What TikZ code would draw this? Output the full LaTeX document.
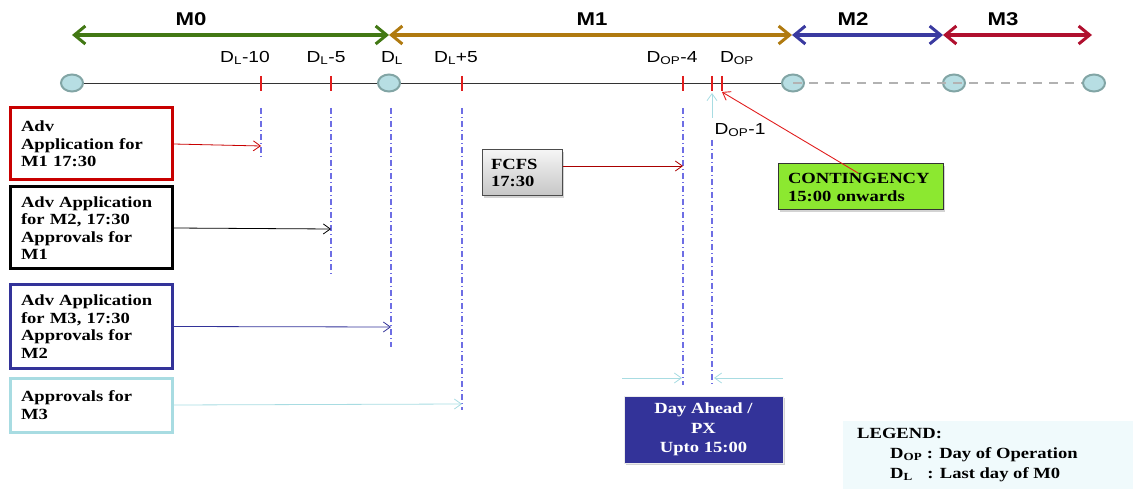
\documentclass[tikz,border=0pt]{standalone}
\usepackage{fontspec}
\setmainfont{Liberation Serif}[FakeStretch=1.2]
\setsansfont{Liberation Sans}[FakeStretch=1.2]
\usetikzlibrary{arrows.meta,shadows,shapes.geometric}
\definecolor{mzero}{RGB}{66,120,20}
\definecolor{mone}{RGB}{176,122,16}
\definecolor{mtwo}{RGB}{58,58,160}
\definecolor{mthree}{RGB}{176,16,46}
\definecolor{boxred}{RGB}{200,0,0}
\definecolor{boxblue}{RGB}{51,51,153}
\definecolor{lcyan}{RGB}{168,220,226}
\definecolor{ddblue}{RGB}{110,110,228}
\definecolor{circfill}{RGB}{183,222,227}
\definecolor{circdraw}{RGB}{130,165,165}
\definecolor{contgreen}{RGB}{140,232,48}
\definecolor{legfill}{RGB}{240,250,252}
\definecolor{tickred}{RGB}{225,30,30}
\tikzset{
  circ/.style={ellipse, minimum width=22pt, minimum height=17pt, inner sep=0pt, fill=circfill, draw=circdraw, line width=2pt},
  tick/.style={tickred, line width=1.3pt},
  ddline/.style={ddblue, line width=1.2pt, dash pattern=on 6pt off 3pt on 1pt off 3pt},
  topar/.style={line width=3.5pt, {Straight Barb[length=11pt,width=18pt,line width=3pt]}-{Straight Barb[length=11pt,width=18pt,line width=3pt]}},
  conn/.style={line width=0.8pt, -{Straight Barb[length=7pt,width=10pt]}},
  tlabel/.style={font=\sffamily\fontsize{16}{18}\selectfont, inner sep=0pt},
  mlabel/.style={font=\sffamily\bfseries\fontsize{18.5}{20}\selectfont, inner sep=0pt},
  advbox/.style={draw, line width=3pt, fill=white, minimum width=162pt, text width=140pt, align=left, inner sep=0pt, font=\bfseries\fontsize{15.5}{17.5}\selectfont},
}
\begin{document}
\begin{tikzpicture}[x=1pt,y=-1pt]
\useasboundingbox (0,0) rectangle (1133,489);
% timeline
\draw[black!80, line width=0.8pt] (72,83) -- (793,83);
\node[circ] (c0) at (72,83) {};
\node[circ] (c1) at (389,83) {};
\node[circ] (c2) at (793,83) {};
\node[circ] (c3) at (954,83) {};
\node[circ] (c4) at (1094,83) {};
\draw[black!30, line width=2pt, dash pattern=on 9pt off 7pt] (c2.center) -- (c4.west);
% ticks
\foreach \x in {261,331,462,683,712,722} \draw[tick] (\x,76) -- (\x,91);
% tick labels
\node[tlabel] (l1) at (245,58) {D\textsubscript{L}-10};
\node[tlabel] (l2) at (326,58) {D\textsubscript{L}-5};
\node[tlabel] (l3) at (392,58) {D\textsubscript{L}};
\node[tlabel] (l4) at (456,58) {D\textsubscript{L}+5};
\node[tlabel] (l5) at (672,58) {D\textsubscript{OP}-4};
\node[tlabel] (l6) at (737,58) {D\textsubscript{OP}};
\node[tlabel] (l7) at (740,130) {D\textsubscript{OP}-1};
% top arrows
\coordinate (a0) at (72,35);
\coordinate (a1) at (389,35);
\coordinate (a2) at (792,35);
\coordinate (a3) at (943,35);
\coordinate (a4) at (1092,35);
\draw[topar, mzero] (a0) -- (a1);
\draw[topar, mone] (a1) -- (a2);
\draw[topar, mtwo] (a2) -- (a3);
\draw[topar, mthree] (a3) -- (a4);
\node[mlabel] (m0) at (191,19) {M0};
\node[mlabel] (m1) at (592,19) {M1};
\node[mlabel] (m2) at (853,19) {M2};
\node[mlabel] (m3) at (1003,19) {M3};
% vertical dash-dot lines
\draw[ddline] (261,108) -- (261,157);
\draw[ddline] (331,108) -- (331,277);
\draw[ddline] (391,108) -- (391,347);
\draw[ddline] (462,108) -- (462,410);
\draw[ddline] (683,108) -- (683,385);
\draw[ddline] (712,140) -- (712,385);
% left boxes
\node[advbox, draw=boxred, minimum height=72pt] (b1) at (91,144) {Adv\\Application for\\M1 17:30};
\node[advbox, draw=black, minimum height=82pt] (b2) at (91,228) {Adv Application\\for M2, 17:30\\Approvals for\\M1};
\node[advbox, draw=boxblue, minimum height=83pt] (b3) at (91,326.5) {Adv Application\\for M3, 17:30\\Approvals for\\M2};
\node[advbox, draw=lcyan, minimum height=54pt] (b4) at (91,405) {Approvals for\\M3};
\coordinate (t1) at (261,146);
\coordinate (t2) at (331,229);
\coordinate (t3) at (391,327);
\coordinate (t4) at (462,404);
\draw[conn, boxred] (b1.east) -- (t1);
\draw[conn, black] (b2.east) -- (t2);
\draw[conn, boxblue] (b3.east) -- (t3);
\draw[conn, lcyan] (b4.east) -- (t4);
% FCFS
\node[draw=black!70, line width=1pt, top color=gray!8, bottom color=gray!45, minimum width=80pt, minimum height=46pt, text width=62pt, align=left, inner sep=0pt, font=\bfseries\fontsize{15.5}{17.5}\selectfont, drop shadow={opacity=0.35, shadow xshift=2pt, shadow yshift=-2pt}] (fcfs) at (522,173) {FCFS\\17:30};
\coordinate (tf) at (683,166);
\draw[conn, boxred!85!black] (fcfs.east |- tf) -- (tf);
% Day ahead
\node[fill=boxblue, draw=white!85!gray, line width=1pt, minimum width=159pt, minimum height=67pt, align=center, inner sep=0pt, text=white, font=\bfseries\fontsize{15.5}{19.5}\selectfont, drop shadow={opacity=0.35, shadow xshift=2pt, shadow yshift=-2pt}] (da) at (703.5,429.5) {Day Ahead /\\PX\\Upto 15:00};
\coordinate (dl) at (622,378);
\coordinate (dlt) at (682,378);
\coordinate (dr) at (783,378);
\coordinate (drt) at (714,378);
\draw[conn, lcyan] (dl) -- (dlt);
\draw[conn, lcyan] (dr) -- (drt);
% contingency
\node[fill=contgreen, draw=black!80, line width=1pt, minimum width=165pt, minimum height=46pt, text width=145pt, align=left, inner sep=0pt, font=\bfseries\fontsize{15.5}{18}\selectfont, drop shadow={opacity=0.35, shadow xshift=2pt, shadow yshift=-2pt}] (cont) at (860.5,187) {CONTINGENCY\\15:00 onwards};
\coordinate (cs) at (858,173);
\coordinate (ct) at (722,92);
\draw[conn, tickred, line width=0.9pt] (cs) -- (ct);
% DOP-1 cyan arrow
\coordinate (ub) at (712,118);
\coordinate (ut) at (712,93);
\draw[conn, lcyan] (ub) -- (ut);
% legend
\node[anchor=north west, fill=legfill, minimum width=290pt, minimum height=72pt, inner sep=0pt, drop shadow={opacity=0.2, shadow xshift=0pt, shadow yshift=-1pt}] (legbox) at (843,421) {};
\node[anchor=north west, align=left, inner sep=0pt, font=\bfseries\fontsize{15.5}{20}\selectfont] (leg) at (857,428) {LEGEND:\\\hspace*{33pt}D\textsubscript{OP} : Day of Operation\\\hspace*{33pt}D\textsubscript{L}\hspace*{10pt} : Last day of M0};
\end{tikzpicture}
\end{document}
